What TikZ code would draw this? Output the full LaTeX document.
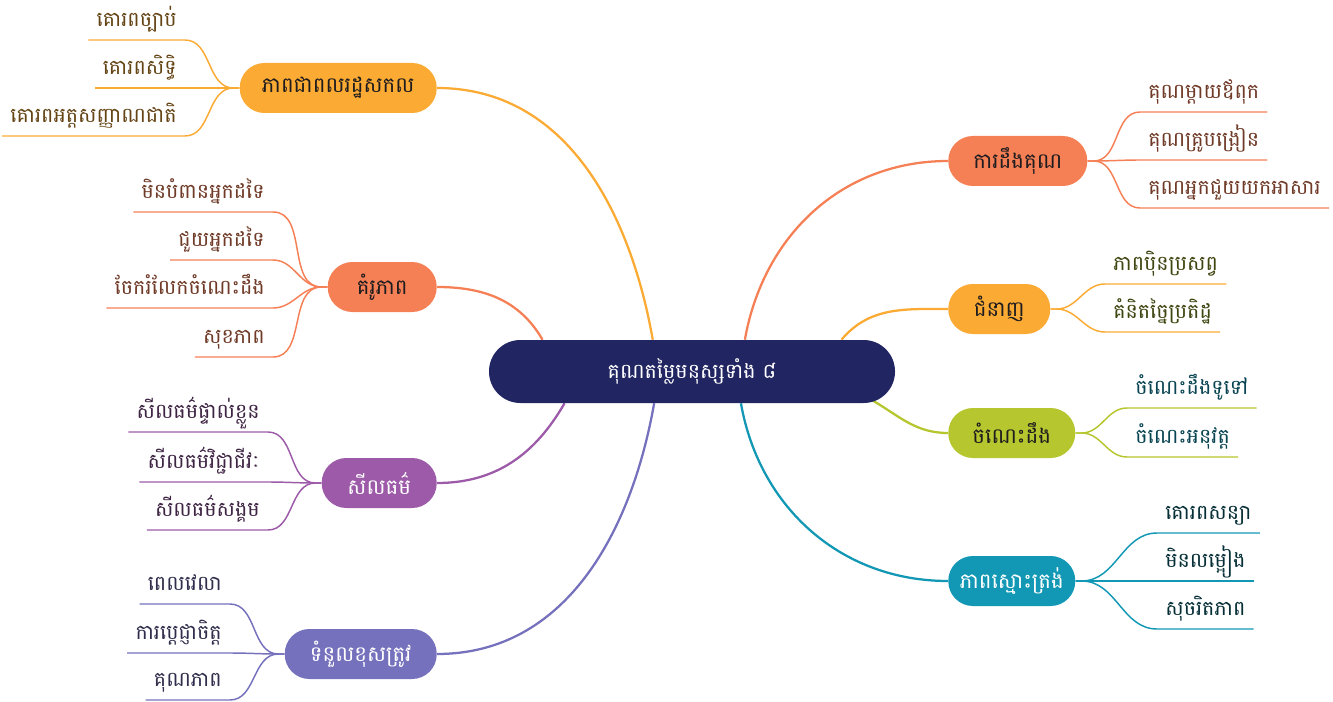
\documentclass[tikz,border=0pt]{standalone}
\usepackage{fontspec}
\newfontfamily\khmerfont[Script=Khmer]{Battambang}
\usetikzlibrary{calc,backgrounds}

\definecolor{cNavy}{RGB}{33,38,98}
\definecolor{cAmber}{RGB}{251,170,52}
\definecolor{cCoral}{RGB}{246,128,86}
\definecolor{cPlum}{RGB}{156,90,168}
\definecolor{cLavender}{RGB}{117,113,189}
\definecolor{cLime}{RGB}{181,198,46}
\definecolor{cTeal}{RGB}{18,152,180}
\definecolor{cInk}{RGB}{30,28,30}

\tikzset{
  pill/.style={rectangle, rounded corners=18.5pt, minimum height=37.5pt, inner xsep=4pt,
    font=\khmerfont\fontsize{16}{18}\selectfont},
  leaf/.style={inner xsep=6pt, inner ysep=5pt, text height=10pt, text depth=5pt,
    font=\khmerfont\fontsize{15.5}{18}\selectfont},
  trunk/.style={line width=1.7pt},
  twig/.style={line width=1.1pt},
}

\begin{document}
\begin{tikzpicture}[x=0.75pt,y=0.75pt,yscale=-1,xscale=1]
\useasboundingbox (0,0) rectangle (1333,702);

%Shape: Root
\node [pill, fill=cNavy, text=white, rounded corners=23.5pt, minimum width=304.5pt, minimum height=47.25pt,
  font=\khmerfont\fontsize{15.5}{18}\selectfont] (root) at (692,371.5) {គុណតម្លៃមនុស្សទាំង ៨};

%Shape: Branches left
\node [pill, fill=cAmber, text=cInk, minimum width=147.75pt, anchor=east] (citizen) at (437,88) {ភាពជាពលរដ្ឋសកល};
\node [pill, fill=cCoral, text=cInk, minimum width=81.75pt, anchor=east] (model) at (437,287) {គំរូភាព};
\node [pill, fill=cPlum, text=white, minimum width=86.25pt, anchor=east] (ethics) at (437,483) {សីលធម៌};
\node [pill, fill=cLavender, text=white, minimum width=114pt, anchor=east] (resp) at (437,654) {ទំនួលខុសត្រូវ};
%Shape: Branches right
\node [pill, fill=cCoral, text=cInk, minimum width=104.25pt, anchor=west] (grat) at (948,161) {ការដឹងគុណ};
\node [pill, fill=cAmber, text=cInk, minimum width=76.5pt, anchor=west] (skill) at (948,309) {ជំនាញ};
\node [pill, fill=cLime, text=cInk, minimum width=95.25pt, anchor=west] (know) at (948,433) {ចំណេះដឹង};
\node [pill, fill=cTeal, text=white, minimum width=95.25pt, anchor=west] (honest) at (948,581) {ភាពស្មោះត្រង់};

% Text Node
\node [leaf, text=cAmber!40!black, anchor=south east] (citizen1) at (185,40) {គោរពច្បាប់};
\node [leaf, text=cAmber!40!black, anchor=south east] (citizen2) at (185,88) {គោរពសិទ្ធិ};
\node [leaf, text=cAmber!40!black, anchor=south east] (citizen3) at (185,136) {គោរពអត្តសញ្ញាណជាតិ};
% Text Node
\node [leaf, text=cCoral!45!black, anchor=south east] (model1) at (273,212) {មិនបំពានអ្នកដទៃ};
\node [leaf, text=cCoral!45!black, anchor=south east] (model2) at (273,260) {ជួយអ្នកដទៃ};
\node [leaf, text=cCoral!45!black, anchor=south east] (model3) at (273,308) {ចែករំលែកចំណេះដឹង};
\node [leaf, text=cCoral!45!black, anchor=south east] (model4) at (273,357) {សុខភាព};
% Text Node
\node [leaf, text=cPlum!40!black, anchor=south east] (ethics1) at (268,432) {សីលធម៌ផ្ទាល់ខ្លួន};
\node [leaf, text=cPlum!40!black, anchor=south east] (ethics2) at (268,482) {សីលធម៌វិជ្ជាជីវៈ};
\node [leaf, text=cPlum!40!black, anchor=south east] (ethics3) at (268,530) {សីលធម៌សង្គម};
% Text Node
\node [leaf, text=cLavender!40!black, anchor=south east] (resp1) at (230,604) {ពេលវេលា};
\node [leaf, text=cLavender!40!black, anchor=south east] (resp2) at (230,653) {ការប្ដេជ្ញាចិត្ត};
\node [leaf, text=cLavender!40!black, anchor=south east] (resp3) at (230,700) {គុណភាព};
% Text Node
\node [leaf, text=cCoral!45!black, anchor=south west] (grat1) at (1140,112) {គុណម្ដាយឪពុក};
\node [leaf, text=cCoral!45!black, anchor=south west] (grat2) at (1140,160) {គុណគ្រូបង្រៀន};
\node [leaf, text=cCoral!45!black, anchor=south west] (grat3) at (1140,208) {គុណអ្នកជួយយកអាសារ};
% Text Node
\node [leaf, text=cLime!35!black, anchor=south west] (skill1) at (1105,284) {ភាពប៉ិនប្រសព្វ};
\node [leaf, text=cLime!35!black, anchor=south west] (skill2) at (1105,332) {គំនិតច្នៃប្រតិដ្ឋ};
% Text Node
\node [leaf, text=cTeal!45!black, anchor=south west] (know1) at (1127,408) {ចំណេះដឹងទូទៅ};
\node [leaf, text=cTeal!45!black, anchor=south west] (know2) at (1127,457) {ចំណេះអនុវត្ត};
% Text Node
\node [leaf, text=cTeal!30!black, anchor=south west] (honest1) at (1157,533) {គោរពសន្យា};
\node [leaf, text=cTeal!30!black, anchor=south west] (honest2) at (1157,581) {មិនលម្អៀង};
\node [leaf, text=cTeal!30!black, anchor=south west] (honest3) at (1157,629) {សុចរិតភាព};

\begin{scope}[on background layer]
%Curve Lines: root to branches
\draw [trunk, cAmber] (citizen.east) to[out=0,in=-100] (root.141);
\draw [trunk, cCoral] (model.east) to[out=0,in=-120] (root.168);
\draw [trunk, cPlum] (ethics.east) to[out=0,in=120] (root.194);
\draw [trunk, cLavender] (resp.east) to[out=0,in=100] (root.220);
\draw [trunk, cCoral] (grat.west) to[out=180,in=-80] (root.31);
\draw [trunk, cAmber] (skill.west) to[out=180,in=-50] (root.12);
\draw [trunk, cLime] (know.west) to[out=180,in=30] ($(root.south east)!0.12!(root.center)$);
\draw [trunk, cTeal] (honest.west) to[out=180,in=80] (root.-33);

%Curve Lines: branches to leaves
\foreach \l in {citizen1,citizen2,citizen3}
  \draw [twig, cAmber] (citizen.west) -- ++(-6,0) to[out=180,in=0] (\l.south east) -- (\l.south west);
\foreach \l in {model1,model2,model3,model4}
  \draw [twig, cCoral] (model.west) -- ++(-6,0) to[out=180,in=0] (\l.south east) -- (\l.south west);
\foreach \l in {ethics1,ethics2,ethics3}
  \draw [twig, cPlum] (ethics.west) -- ++(-6,0) to[out=180,in=0] (\l.south east) -- (\l.south west);
\foreach \l in {resp1,resp2,resp3}
  \draw [twig, cLavender] (resp.west) -- ++(-6,0) to[out=180,in=0] (\l.south east) -- (\l.south west);
\foreach \l in {grat1,grat2,grat3}
  \draw [twig, cCoral] (grat.east) -- ++(6,0) to[out=0,in=180] (\l.south west) -- (\l.south east);
\foreach \l in {skill1,skill2}
  \draw [twig, cAmber] (skill.east) -- ++(6,0) to[out=0,in=180] (\l.south west) -- (\l.south east);
\foreach \l in {know1,know2}
  \draw [twig, cLime] (know.east) -- ++(6,0) to[out=0,in=180] (\l.south west) -- (\l.south east);
\foreach \l in {honest1,honest2,honest3}
  \draw [twig, cTeal] (honest.east) -- ++(6,0) to[out=0,in=180] (\l.south west) -- (\l.south east);
\end{scope}

\end{tikzpicture}
\end{document}
